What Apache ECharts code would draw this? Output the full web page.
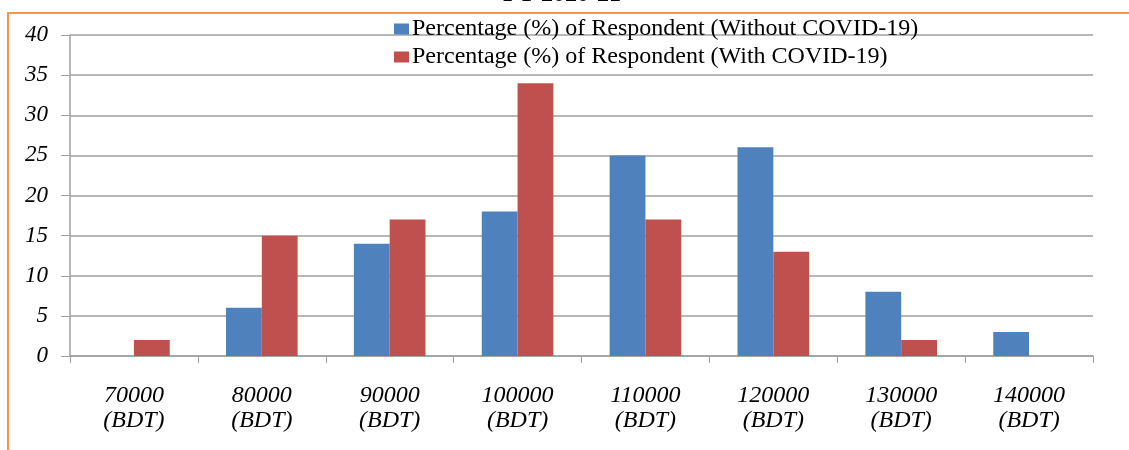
<!DOCTYPE html>
<html>
<head>
<meta charset="utf-8">
<script src="https://cdn.jsdelivr.net/npm/echarts@6/dist/echarts.min.js"></script>
<style>html,body{margin:0;padding:0;background:#fff}#c{width:1129px;height:450px}</style>
</head>
<body>
<div id="c"></div>
<script>
const categories = ['70000\n(BDT)','80000\n(BDT)','90000\n(BDT)','100000\n(BDT)','110000\n(BDT)','120000\n(BDT)','130000\n(BDT)','140000\n(BDT)'];
const withoutCovid = [0, 6, 14, 18, 25, 26, 8, 3];
const withCovid = [2, 15, 17, 34, 17, 13, 2, 0];
const seriesNames = ['Percentage (%) of Respondent (Without COVID-19)', 'Percentage (%) of Respondent (With COVID-19)'];
const titleText = 'FY 2020-21';

const chart = echarts.init(document.getElementById('c'), null, {renderer: 'canvas'});
const serif = '"Liberation Serif", "Times New Roman", serif';
chart.setOption({
  animation: false,
  backgroundColor: '#fff',
  graphic: [
    {type: 'text', left: 503, top: -17, style: {text: titleText, font: 'bold 24px ' + serif, fill: '#000'}},
    {type: 'line', shape: {x1: 8, y1: 13, x2: 1129, y2: 13}, style: {stroke: '#F79646', lineWidth: 2}},
    {type: 'line', shape: {x1: 8, y1: 12, x2: 8, y2: 450}, style: {stroke: '#F79646', lineWidth: 2}}
  ],
  legend: {
    orient: 'vertical',
    left: 394,
    top: 17,
    padding: 0,
    itemWidth: 15,
    itemHeight: 11,
    itemGap: 4,
    icon: 'rect',
    textStyle: {fontFamily: serif, fontSize: 24, lineHeight: 24, color: '#000', padding: [0,0,0,-2]},
    data: seriesNames
  },
  grid: {left: 70, right: 36, top: 35, bottom: 94},
  xAxis: {
    type: 'category',
    data: categories,
    axisLine: {lineStyle: {color: '#A0A0A0', width: 1.5}},
    axisTick: {show: true, length: 7, lineStyle: {color: '#A0A0A0'}},
    axisLabel: {fontFamily: serif, fontStyle: 'italic', fontSize: 24, color: '#000', margin: 27, lineHeight: 25, interval: 0}
  },
  yAxis: {
    type: 'value',
    min: 0, max: 40, interval: 5,
    axisLine: {show: true, lineStyle: {color: '#A0A0A0', width: 1.5}},
    axisTick: {show: true, length: 9, lineStyle: {color: '#A0A0A0'}},
    splitLine: {lineStyle: {color: '#A0A0A0', width: 1.5}},
    axisLabel: {fontFamily: serif, fontStyle: 'italic', fontSize: 23, color: '#000', margin: 22}
  },
  series: [
    {name: seriesNames[0], type: 'bar', data: withoutCovid, itemStyle: {color: '#4F81BD'}, barGap: '0%', barCategoryGap: '44%'},
    {name: seriesNames[1], type: 'bar', data: withCovid, itemStyle: {color: '#C0504D'}, barGap: '0%', barCategoryGap: '44%'}
  ]
});
</script>
</body>
</html>
